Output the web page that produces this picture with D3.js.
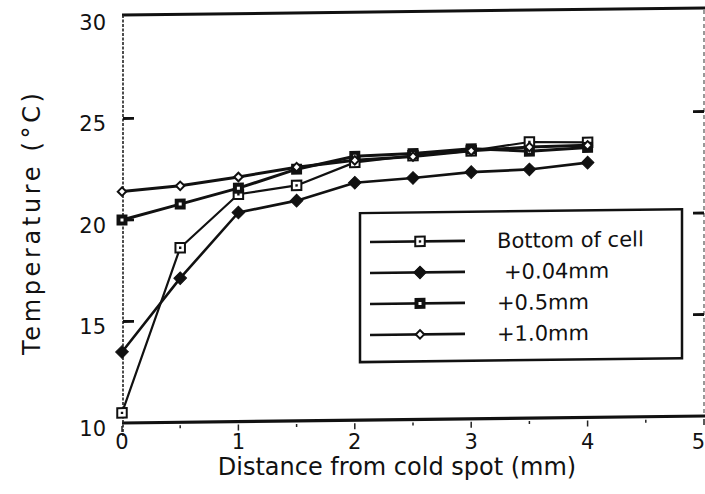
<!DOCTYPE html>
<html>
<head>
<meta charset="utf-8">
<script src="https://cdn.jsdelivr.net/npm/d3@7"></script>
<style>
  html, body { margin: 0; padding: 0; background: #fff; }
  svg { display: block; }
  text { font-family: "DejaVu Sans", sans-serif; fill: #111; }
</style>
</head>
<body>
<svg id="chart" width="705" height="494"></svg>
<script>
// Distance from the cold spot (mm) at which temperatures were measured
const distance = [0, 0.5, 1, 1.5, 2, 2.5, 3, 3.5, 4];

// Temperature (°C) at each height above the cell bottom
const bottomOfCell = [10.5, 18.6, 21.2, 21.6, 22.7, 23.0, 23.2, 23.6, 23.55];
const plus004mm    = [13.5, 17.1, 20.3, 20.85, 21.7, 21.9, 22.15, 22.25, 22.55];
const plus05mm     = [20.0, 20.75, 21.5, 22.4, 23.0, 23.1, 23.3, 23.15, 23.3];
const plus10mm     = [21.4, 21.65, 22.05, 22.5, 22.8, 22.95, 23.2, 23.35, 23.4];

const seriesNames = ["Bottom of cell", "+0.04mm", "+0.5mm", "+1.0mm"];
const xTicks = [0, 1, 2, 3, 4, 5];
const xMinorTicks = [0.5, 1.5, 2.5, 3.5, 4.5];
const yTicks = [10, 15, 20, 25, 30];
const yInnerTicks = [15, 20, 25];

const series = [
  { name: seriesNames[0], values: bottomOfCell, marker: "openSquare", width: 2.2 },
  { name: seriesNames[1], values: plus004mm,    marker: "filledDiamond", width: 2.6 },
  { name: seriesNames[2], values: plus05mm,     marker: "filledSquare", width: 3 },
  { name: seriesNames[3], values: plus10mm,     marker: "openDiamond", width: 3 }
];

const svg = d3.select("#chart");

const x = d3.scaleLinear().domain([0, 5]).range([122, 704]);
const y = d3.scaleLinear().domain([10, 30]).range([423, 17]);

// The plotting frame is slightly sheared, as on the printed page
const plot = svg.append("g")
  .attr("transform", `translate(${x(0)},0) skewY(-0.69) translate(${-x(0)},0)`);

// Frame: heavy top and bottom rules, light dotted left and dashed right edges
plot.append("line")
  .attr("x1", x(0)).attr("x2", x(5) + 4)
  .attr("y1", y(30) - 2).attr("y2", y(30) - 2)
  .attr("stroke", "#111").attr("stroke-width", 3);
plot.append("line")
  .attr("x1", x(0)).attr("x2", x(5) + 4)
  .attr("y1", y(10)).attr("y2", y(10))
  .attr("stroke", "#111").attr("stroke-width", 3.2);
plot.append("line")
  .attr("x1", x(0) + 1).attr("x2", x(0) + 1)
  .attr("y1", y(30) - 2).attr("y2", y(10) + 13)
  .attr("stroke", "#222").attr("stroke-width", 1.6)
  .attr("stroke-dasharray", "3,1.5");
plot.append("line")
  .attr("x1", x(5)).attr("x2", x(5))
  .attr("y1", y(30)).attr("y2", y(10))
  .attr("stroke", "#555").attr("stroke-width", 1.2)
  .attr("stroke-dasharray", "4,3");

// Inward ticks on the left and right edges
plot.selectAll(".ytick-left").data(yInnerTicks).join("line")
  .attr("x1", x(0) + 1).attr("x2", x(0) + 12)
  .attr("y1", d => y(d)).attr("y2", d => y(d))
  .attr("stroke", "#111").attr("stroke-width", 2.8);
plot.selectAll(".ytick-right").data(yInnerTicks).join("line")
  .attr("x1", x(5) - 11).attr("x2", x(5))
  .attr("y1", d => y(d)).attr("y2", d => y(d))
  .attr("stroke", "#111").attr("stroke-width", 2.8);

// Small downward ticks below the distance axis
plot.selectAll(".xtick").data(xTicks.concat(xMinorTicks)).join("line")
  .attr("x1", d => x(d)).attr("x2", d => x(d))
  .attr("y1", y(10) + 3).attr("y2", d => y(10) + (Number.isInteger(d) ? 9 : 6))
  .attr("stroke", "#222").attr("stroke-width", 1.5);

// Series lines
const line = d3.line().x((d, i) => x(distance[i])).y(d => y(d));
plot.selectAll(".series").data(series).join("path")
  .attr("d", d => line(d.values))
  .attr("fill", "none")
  .attr("stroke", "#111")
  .attr("stroke-width", d => d.width)
  .attr("stroke-linejoin", "round");

// Marker drawing for each symbol style (diamonds are squares turned 45°)
function drawMarker(g, type) {
  if (type === "openSquare") {
    g.append("path").attr("d", d3.symbol(d3.symbolSquare, 90)())
      .attr("fill", "#fff").attr("stroke", "#111").attr("stroke-width", 2);
    g.append("rect").attr("x", -1.2).attr("y", -1.2).attr("width", 2.4).attr("height", 2.4)
      .attr("fill", "#111");
  } else if (type === "filledSquare") {
    g.append("path").attr("d", d3.symbol(d3.symbolSquare, 120)())
      .attr("fill", "#111");
    g.append("rect").attr("x", -1.5).attr("y", -1.5).attr("width", 3).attr("height", 3)
      .attr("fill", "#fff");
  } else if (type === "filledDiamond") {
    g.append("path").attr("d", d3.symbol(d3.symbolSquare, 80)())
      .attr("transform", "rotate(45)")
      .attr("fill", "#111").attr("stroke", "#111").attr("stroke-width", 1);
  } else {
    g.append("path").attr("d", d3.symbol(d3.symbolSquare, 36)())
      .attr("transform", "rotate(45)")
      .attr("fill", "#fff").attr("stroke", "#111").attr("stroke-width", 2);
  }
}

series.forEach(s => {
  plot.selectAll(null).data(s.values).join("g")
    .attr("transform", (d, i) => `translate(${x(distance[i])},${y(d)})`)
    .each(function () { drawMarker(d3.select(this), s.marker); });
});

// Legend
const legend = plot.append("g");
legend.append("rect")
  .attr("x", 360).attr("y", 216).attr("width", 322).attr("height", 149)
  .attr("fill", "#fff").attr("stroke", "#111").attr("stroke-width", 2.5);
const rows = legend.selectAll(".row").data(series).join("g")
  .attr("transform", (d, i) => `translate(0,${245 + i * 31})`);
rows.append("line")
  .attr("x1", 370).attr("x2", 465).attr("y1", 0).attr("y2", 0)
  .attr("stroke", "#111").attr("stroke-width", 2.6);
rows.append("g").attr("transform", "translate(420,0)")
  .each(function (d) { drawMarker(d3.select(this), d.marker); });
rows.append("text")
  .attr("x", (d, i) => i === 1 ? 504 : 497)
  .attr("y", 0).attr("dy", "0.36em")
  .attr("font-size", 21)
  .text(d => d.name);

// Tick labels (the last distance label sits flush with the right edge)
svg.selectAll(".ylabel").data(yTicks).join("text")
  .attr("x", 106).attr("y", d => y(d) + 5).attr("dy", "0.36em")
  .attr("text-anchor", "end").attr("font-size", 21)
  .text(d => d);
svg.selectAll(".xlabel").data(xTicks).join("text")
  .attr("x", d => d === 5 ? 705 : x(d)).attr("y", 441).attr("dy", "0.36em")
  .attr("text-anchor", d => d === 5 ? "end" : "middle").attr("font-size", 21)
  .text(d => d);

// Axis titles
svg.append("text")
  .attr("x", 397).attr("y", 466).attr("dy", "0.36em")
  .attr("text-anchor", "middle").attr("font-size", 24)
  .text("Distance from cold spot (mm)");
svg.append("text")
  .attr("transform", "translate(31,224) rotate(-90)")
  .attr("dy", "0.36em")
  .attr("text-anchor", "middle").attr("font-size", 24)
  .attr("textLength", 262).attr("lengthAdjust", "spacing")
  .text("Temperature (°C)");
</script>
</body>
</html>
